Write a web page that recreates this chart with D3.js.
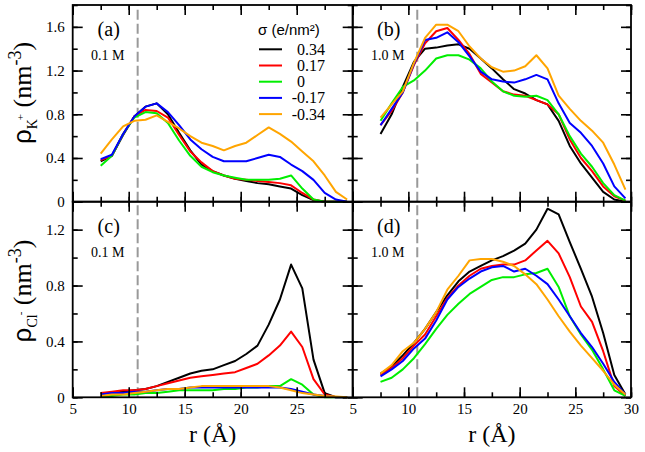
<!DOCTYPE html>
<html><head><meta charset="utf-8">
<script src="https://cdn.jsdelivr.net/npm/d3@7"></script>
<style>body{margin:0;background:#fff}svg{display:block}</style>
</head><body>
<svg id="chart" width="645" height="452"></svg>
<script>
// ---------- data ----------
const r = [7.5,8.5,9.5,10.5,11.5,12.5,13.5,14.5,15.5,16.5,17.5,18.5,19.5,20.5,21.5,22.5,23.5,24.5,25.5,26.5,27.5,28.5,29.5];
const sigmaLabels = ["0.34","0.17","0","-0.17","-0.34"];
const seriesColors = ["#000000","#ff0000","#00ee00","#0000ff","#ffa500"];
const panelLetters = ["(a)","(b)","(c)","(d)"];
const concLabels = ["0.1 M","1.0 M","0.1 M","1.0 M"];
const xTicks = [5,10,15,20,25,30];
const yTicksK = [0,0.4,0.8,1.2,1.6];
const yTicksCl = [0,0.4,0.8,1.2];
const poreEdge = 10.8;

// (a) K+ 0.1 M
const a_p034 = [0.37,0.42,0.61,0.78,0.87,0.90,0.80,0.63,0.47,0.34,0.28,0.24,0.21,0.19,0.17,0.16,0.14,0.12,0.06,0.015,0,0,0];
const a_p017 = [0.38,0.42,0.62,0.78,0.84,0.83,0.77,0.61,0.46,0.36,0.28,0.24,0.21,0.20,0.19,0.18,0.17,0.15,0.08,0.02,0,0,0];
const a_0    = [0.33,0.42,0.62,0.77,0.82,0.81,0.72,0.56,0.42,0.32,0.27,0.24,0.22,0.20,0.20,0.20,0.21,0.24,0.12,0.02,0,0,0];
const a_m017 = [0.39,0.43,0.62,0.78,0.87,0.90,0.82,0.70,0.57,0.48,0.41,0.37,0.37,0.37,0.40,0.43,0.41,0.34,0.28,0.20,0.08,0.02,0];
const a_m034 = [0.44,0.57,0.69,0.74,0.75,0.79,0.73,0.67,0.60,0.54,0.51,0.47,0.51,0.54,0.61,0.68,0.62,0.55,0.46,0.37,0.24,0.09,0.02];
// (b) K+ 1.0 M
const b_p034 = [0.62,0.80,1.05,1.28,1.40,1.41,1.43,1.44,1.40,1.31,1.22,1.12,1.03,0.99,0.93,0.89,0.74,0.51,0.35,0.22,0.09,0.02,0.0];
const b_p017 = [0.70,0.83,1.00,1.25,1.45,1.56,1.59,1.48,1.35,1.17,1.09,1.01,0.98,0.97,0.93,0.89,0.80,0.57,0.40,0.28,0.14,0.05,0.01];
const b_0    = [0.74,0.90,1.05,1.11,1.20,1.31,1.34,1.34,1.30,1.22,1.10,1.01,0.97,0.96,0.97,0.93,0.80,0.60,0.44,0.32,0.17,0.06,0.01];
const b_m017 = [0.70,0.85,1.00,1.26,1.48,1.50,1.55,1.46,1.33,1.19,1.12,1.10,1.09,1.12,1.16,1.12,0.90,0.72,0.63,0.51,0.35,0.14,0.03];
const b_m034 = [0.77,0.89,1.01,1.27,1.50,1.62,1.62,1.56,1.42,1.31,1.23,1.19,1.20,1.24,1.34,1.22,0.97,0.85,0.74,0.65,0.54,0.34,0.11];
// (c) Cl- 0.1 M
const c_p034 = [0.03,0.03,0.04,0.05,0.06,0.08,0.11,0.14,0.17,0.19,0.20,0.23,0.26,0.31,0.37,0.52,0.70,0.95,0.78,0.27,0.03,0,0];
const c_p017 = [0.03,0.04,0.05,0.05,0.06,0.08,0.10,0.12,0.14,0.15,0.16,0.17,0.18,0.21,0.24,0.30,0.37,0.47,0.36,0.13,0.02,0,0];
const c_0    = [0.01,0.01,0.02,0.02,0.03,0.03,0.04,0.05,0.05,0.05,0.05,0.06,0.06,0.07,0.07,0.08,0.08,0.13,0.09,0.02,0,0,0];
const c_m017 = [0.02,0.03,0.03,0.04,0.04,0.05,0.06,0.06,0.07,0.07,0.07,0.07,0.07,0.07,0.07,0.07,0.07,0.06,0.04,0.02,0.01,0,0];
const c_m034 = [0.01,0.02,0.02,0.03,0.04,0.05,0.06,0.06,0.07,0.08,0.08,0.08,0.08,0.08,0.08,0.08,0.07,0.05,0.03,0.02,0.01,0.005,0];
// (d) Cl- 1.0 M
const d_p034 = [0.17,0.22,0.30,0.39,0.49,0.61,0.73,0.83,0.90,0.94,0.98,1.01,1.05,1.10,1.20,1.35,1.31,1.11,0.92,0.72,0.46,0.16,0.02];
const d_p017 = [0.16,0.21,0.28,0.37,0.45,0.58,0.71,0.80,0.87,0.92,0.94,0.95,0.95,0.98,1.05,1.12,1.03,0.86,0.65,0.54,0.33,0.08,0.01];
const d_0    = [0.11,0.14,0.20,0.28,0.38,0.49,0.59,0.67,0.74,0.79,0.84,0.86,0.86,0.88,0.89,0.92,0.79,0.58,0.45,0.34,0.20,0.05,0.01];
const d_m017 = [0.15,0.20,0.26,0.35,0.42,0.55,0.70,0.79,0.85,0.90,0.93,0.94,0.90,0.92,0.87,0.81,0.70,0.58,0.46,0.36,0.24,0.11,0.02];
const d_m034 = [0.17,0.23,0.33,0.39,0.49,0.61,0.77,0.87,0.98,0.99,0.99,0.97,0.94,0.88,0.81,0.70,0.58,0.47,0.37,0.28,0.19,0.09,0.02];

// ---------- layout ----------
const svg = d3.select("#chart");
const X0 = 72.7, XM = 352.7, X1 = 631, Y0 = 5, YM = 201.7, Y1 = 397.3;
const SERIF = '"Liberation Serif"';
const SANS = '"Liberation Sans"';

const panels = [
  {x:[X0,XM], y:[Y0,YM], ymax:1.8, yt:yTicksK, series:[a_p034,a_p017,a_0,a_m017,a_m034], ylab:true, xlab:false, xt:[]},
  {x:[XM,X1], y:[Y0,YM], ymax:1.8, yt:yTicksK, series:[b_p034,b_p017,b_0,b_m017,b_m034], ylab:false, xlab:false, xt:[]},
  {x:[X0,XM], y:[YM,Y1], ymax:1.4, yt:yTicksCl, series:[c_p034,c_p017,c_0,c_m017,c_m034], ylab:true, xlab:true, xt:xTicks.slice(0,5)},
  {x:[XM,X1], y:[YM,Y1], ymax:1.4, yt:yTicksCl, series:[d_p034,d_p017,d_0,d_m017,d_m034], ylab:false, xlab:true, xt:xTicks}
];

const styleAxis = sel => {
  sel.select(".domain").remove();
  sel.selectAll("line").attr("stroke","#000").attr("stroke-width",1.6);
  sel.selectAll("text").style("font-family",SERIF).style("font-size","15px").attr("fill","#000");
};

panels.forEach((p,i) => {
  const xs = d3.scaleLinear().domain([5,30]).range(p.x);
  const ys = d3.scaleLinear().domain([0,p.ymax]).range([p.y[1],p.y[0]]);
  const g = svg.append("g");

  g.append("line")
    .attr("x1", xs(poreEdge)).attr("x2", xs(poreEdge))
    .attr("y1", ys(0)).attr("y2", ys(p.ymax))
    .attr("stroke","#999").attr("stroke-width",2).attr("stroke-dasharray","10,4");

  const line = d3.line().x((d,k)=>xs(r[k])).y(d=>ys(d));
  p.series.forEach((s,k) => {
    g.append("path").datum(s).attr("d", line)
      .attr("fill","none").attr("stroke", seriesColors[k])
      .attr("stroke-width",2).attr("stroke-linejoin","round");
  });

  const yMinor = d3.range(0, p.ymax+1e-9, 0.2);
  const xMinor = d3.range(5, 30.01, 2.5);
  svg.append("g").attr("transform",`translate(${p.x[0]},0)`)
    .call(d3.axisLeft(ys).tickValues(yMinor).tickSize(-5).tickFormat("")).call(styleAxis);
  svg.append("g").attr("transform",`translate(${p.x[1]},0)`)
    .call(d3.axisRight(ys).tickValues(yMinor).tickSize(-5).tickFormat("")).call(styleAxis);
  svg.append("g").attr("transform",`translate(0,${p.y[1]})`)
    .call(d3.axisBottom(xs).tickValues(xMinor).tickSize(-5).tickFormat("")).call(styleAxis);
  svg.append("g").attr("transform",`translate(0,${p.y[0]})`)
    .call(d3.axisTop(xs).tickValues(xMinor).tickSize(-5).tickFormat("")).call(styleAxis);
  svg.append("g").attr("transform",`translate(${p.x[0]},0)`)
    .call(d3.axisLeft(ys).tickValues(p.yt).tickSize(-10).tickPadding(8)
      .tickFormat(p.ylab ? (d => d===0 ? "0" : d3.format(".1f")(d)) : ""))
    .call(styleAxis);
  svg.append("g").attr("transform",`translate(${p.x[1]},0)`)
    .call(d3.axisRight(ys).tickValues(p.yt).tickSize(-10).tickFormat("")).call(styleAxis);
  svg.append("g").attr("transform",`translate(0,${p.y[1]})`)
    .call(d3.axisBottom(xs).tickValues(xTicks).tickSize(-10).tickFormat(""))
    .call(styleAxis);
  if (p.xlab) {
    svg.append("g").attr("transform",`translate(0,${p.y[1]})`)
      .call(d3.axisBottom(xs).tickValues(p.xt).tickSize(0).tickPadding(6).tickFormat(d3.format("d")))
      .call(styleAxis);
  }
  svg.append("g").attr("transform",`translate(0,${p.y[0]})`)
    .call(d3.axisTop(xs).tickValues(xTicks).tickSize(-10).tickFormat("")).call(styleAxis);

  svg.append("rect").attr("x",p.x[0]).attr("y",p.y[0])
    .attr("width",p.x[1]-p.x[0]).attr("height",p.y[1]-p.y[0])
    .attr("fill","none").attr("stroke","#000").attr("stroke-width",1.8);

  svg.append("text").attr("x",p.x[0]+36).attr("y",p.y[0]+31)
    .attr("text-anchor","middle").style("font-family",SERIF).style("font-size","20px")
    .text(panelLetters[i]);
  svg.append("text").attr("x",p.x[0]+35).attr("y",p.y[0]+55)
    .attr("text-anchor","middle").style("font-family",SERIF).style("font-size","14px")
    .text(concLabels[i]);

  if (p.xlab) {
    svg.append("text").attr("x",(p.x[0]+p.x[1])/2).attr("y",442)
      .attr("text-anchor","middle").style("font-family",SERIF).style("font-size","24px")
      .text("r (Å)");
  }
});

function yTitle(cy, sub, subSup) {
  const t = svg.append("text")
    .attr("transform",`translate(31,${cy}) rotate(-90)`)
    .attr("text-anchor","middle").style("font-family",SERIF).style("font-size","26px");
  t.append("tspan").style("font-family",SANS).style("font-size","26px").text("ρ");
  t.append("tspan").style("font-size","14px").attr("dy",6).text(sub);
  t.append("tspan").style("font-size","11px").attr("dy",-13).attr("dx",-1).text(subSup);
  t.append("tspan").style("font-size","26px").attr("dy",7).text(" (nm");
  t.append("tspan").style("font-size","18px").attr("dy",-10).text("-3");
  t.append("tspan").style("font-size","26px").attr("dy",10).text(")");
}
yTitle(93, "K", "+");
yTitle(291, "Cl", "-");

const lg = svg.append("g");
lg.append("text").attr("x",258).attr("y",35)
  .style("font-family",SANS).style("font-size","15px").text("σ (e/nm²)");
sigmaLabels.forEach((lab,k) => {
  const cy = 49.3 + k*16.2;
  lg.append("line").attr("x1",259).attr("x2",282).attr("y1",cy).attr("y2",cy)
    .attr("stroke",seriesColors[k]).attr("stroke-width",2);
  const neg = lab.startsWith("-");
  lg.append("text").attr("y",cy+5.5).attr("x", 297 - (neg ? 5.3 : 0))
    .style("font-family",SERIF).style("font-size","16px").text(lab);
});
</script>
</body></html>
